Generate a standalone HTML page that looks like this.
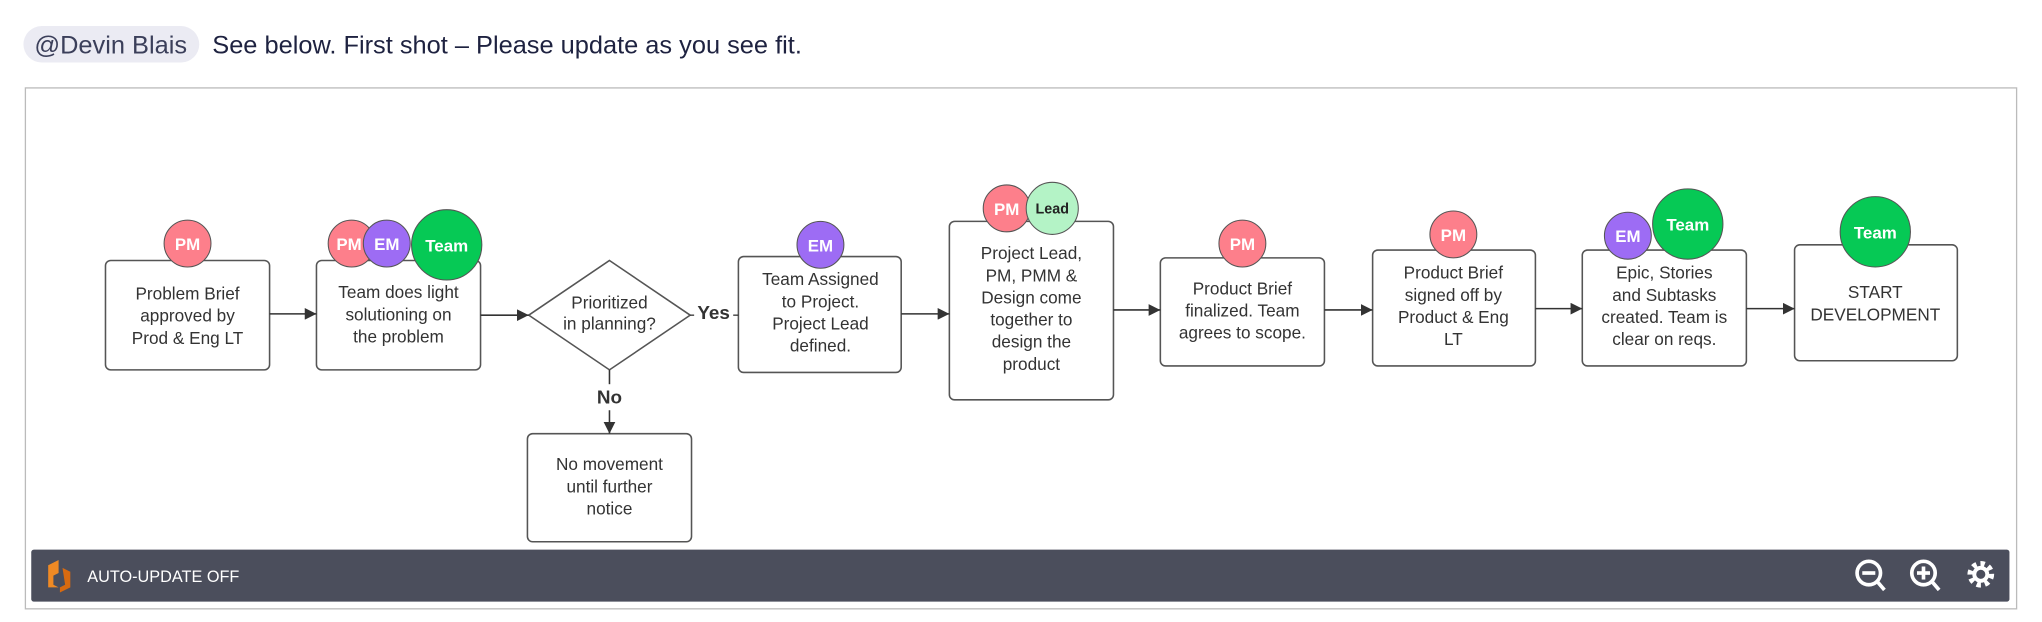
<!DOCTYPE html>
<html><head><meta charset="utf-8"><style>
html,body{margin:0;padding:0;background:#fff;width:2042px;height:622px;overflow:hidden}
svg{display:block}
text{font-family:"Liberation Sans",sans-serif}
</style></head><body>
<svg width="2042" height="622" viewBox="0 0 1568 477.6" xmlns="http://www.w3.org/2000/svg">
<defs><marker id="a" viewBox="0 0 10 10" refX="10" refY="5" markerWidth="9" markerHeight="9" markerUnits="userSpaceOnUse" orient="auto"><path d="M0,0L10,5L0,10z" fill="#333"/></marker></defs>
<rect x="18" y="20" width="135" height="28" rx="14" fill="#ebebf3"/>
<text x="85" y="41" font-size="19.5" fill="#3b3f5a" text-anchor="middle">@Devin Blais</text>
<text x="163" y="41" font-size="19.5" fill="#1e2240">See below. First shot – Please update as you see fit.</text>
<rect x="19.5" y="67.5" width="1529" height="400" fill="#fff" stroke="#bbb"/>
<g fill="#fff" stroke="#555" stroke-width="1.2">
<rect x="81" y="200" width="126" height="84" rx="4"/>
<rect x="243" y="200" width="126" height="84" rx="4"/>
<path d="M468,200L530,242L468,284L406,242Z"/>
<rect x="567" y="197" width="125" height="89" rx="4"/>
<rect x="729" y="170" width="126" height="137" rx="4"/>
<rect x="891" y="198" width="126" height="83" rx="4"/>
<rect x="1054" y="192" width="125" height="89" rx="4"/>
<rect x="1215" y="192" width="126" height="89" rx="4"/>
<rect x="1378" y="188" width="125" height="89" rx="4"/>
<rect x="405" y="333" width="126" height="83" rx="4"/>
</g>
<g stroke="#333" stroke-width="1.2" marker-end="url(#a)">
<line x1="207" y1="241" x2="243" y2="241"/>
<line x1="369" y1="242" x2="406" y2="242"/>
<line x1="692" y1="241" x2="729" y2="241"/>
<line x1="855" y1="238" x2="891" y2="238"/>
<line x1="1017" y1="238" x2="1054" y2="238"/>
<line x1="1179" y1="237" x2="1215" y2="237"/>
<line x1="1341" y1="237" x2="1378" y2="237"/>
<line x1="468" y1="284" x2="468" y2="333"/>
</g>
<line x1="530" y1="242" x2="533" y2="242" stroke="#333"/>
<line x1="563" y1="242" x2="567" y2="242" stroke="#333"/>
<rect x="455" y="295" width="26" height="20" fill="#fff"/>
<text x="548" y="245" font-size="14.5" font-weight="bold" fill="#333" text-anchor="middle">Yes</text>
<text x="468" y="310" font-size="14.5" font-weight="bold" fill="#333" text-anchor="middle">No</text>
<g font-size="13.2" fill="#333" text-anchor="middle">
<text x="144" y="230">Problem Brief</text><text x="144" y="247">approved by</text><text x="144" y="264">Prod &amp; Eng LT</text>
<text x="306" y="229">Team does light</text><text x="306" y="246">solutioning on</text><text x="306" y="263">the problem</text>
<text x="468" y="237">Prioritized</text><text x="468" y="253">in planning?</text>
<text x="630" y="219">Team Assigned</text><text x="630" y="236">to Project.</text><text x="630" y="253">Project Lead</text><text x="630" y="270">defined.</text>
<text x="792" y="199">Project Lead,</text><text x="792" y="216">PM, PMM &amp;</text><text x="792" y="233">Design come</text><text x="792" y="250">together to</text><text x="792" y="267">design the</text><text x="792" y="284">product</text>
<text x="954" y="226">Product Brief</text><text x="954" y="243">finalized. Team</text><text x="954" y="260">agrees to scope.</text>
<text x="1116" y="214">Product Brief</text><text x="1116" y="231">signed off by</text><text x="1116" y="248">Product &amp; Eng</text><text x="1116" y="265">LT</text>
<text x="1278" y="214">Epic, Stories</text><text x="1278" y="231">and Subtasks</text><text x="1278" y="248">created. Team is</text><text x="1278" y="265">clear on reqs.</text>
<text x="1440" y="229">START</text><text x="1440" y="246">DEVELOPMENT</text>
<text x="468" y="361">No movement</text><text x="468" y="378">until further</text><text x="468" y="395">notice</text>
</g>
<g stroke="#555" stroke-width="0.8" font-weight="bold" text-anchor="middle" font-size="13">
<circle cx="144" cy="187" r="18" fill="#fd7f8b"/><text x="144" y="192" fill="#fff" stroke="none">PM</text>
<circle cx="270" cy="187" r="18" fill="#fd7f8b"/><text x="268" y="192" fill="#fff" stroke="none">PM</text>
<circle cx="297" cy="187" r="18" fill="#9d6cf4"/><text x="297" y="192" fill="#fff" stroke="none">EM</text>
<circle cx="343" cy="188" r="27" fill="#06c955"/><text x="343" y="193" fill="#fff" stroke="none">Team</text>
<circle cx="630" cy="188" r="18" fill="#9d6cf4"/><text x="630" y="193" fill="#fff" stroke="none">EM</text>
<circle cx="773" cy="160" r="18" fill="#fd7f8b"/><text x="773" y="165" fill="#fff" stroke="none">PM</text>
<circle cx="808" cy="160" r="20" fill="#b4f3c6"/><text x="808" y="164" fill="#222" stroke="none" font-size="11">Lead</text>
<circle cx="954" cy="187" r="18" fill="#fd7f8b"/><text x="954" y="192" fill="#fff" stroke="none">PM</text>
<circle cx="1116" cy="180" r="18" fill="#fd7f8b"/><text x="1116" y="185" fill="#fff" stroke="none">PM</text>
<circle cx="1250" cy="181" r="18" fill="#9d6cf4"/><text x="1250" y="186" fill="#fff" stroke="none">EM</text>
<circle cx="1296" cy="172" r="27" fill="#06c955"/><text x="1296" y="177" fill="#fff" stroke="none">Team</text>
<circle cx="1440" cy="178" r="27" fill="#06c955"/><text x="1440" y="183" fill="#fff" stroke="none">Team</text>
</g>
<rect x="24" y="422" width="1519" height="40" rx="2" fill="#4b4e5c"/>
<path d="M37,434l8,-4v10l-4,2v7l4,2l-8,0z" fill="#f08a24"/>
<path d="M48,436l6,3v12l-8,4v-4l4,-2z" fill="#d86a10"/>
<text x="67" y="447" font-size="12.5" fill="#fff">AUTO-UPDATE OFF</text>
<g stroke="#fff" stroke-width="2.8" fill="none">
<circle cx="1435" cy="440" r="9"/><line x1="1441" y1="446" x2="1447" y2="453"/><line x1="1430" y1="440" x2="1440" y2="440"/>
<circle cx="1477" cy="440" r="9"/><line x1="1483" y1="446" x2="1489" y2="453"/><line x1="1472" y1="440" x2="1482" y2="440"/><line x1="1477" y1="435" x2="1477" y2="445"/>
<circle cx="1521" cy="441" r="8" stroke-width="4.5" stroke-dasharray="3.2 3"/>
<circle cx="1521" cy="441" r="5" stroke-width="3"/>
</g>
</svg>
</body></html>
